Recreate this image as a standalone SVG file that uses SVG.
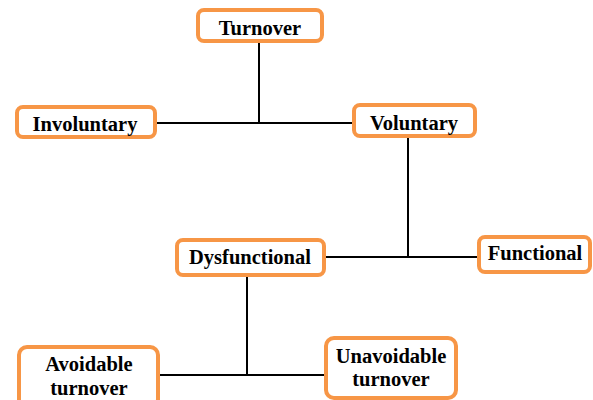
<svg xmlns="http://www.w3.org/2000/svg" width="593" height="400" viewBox="0 0 593 400">
<style>
.box{fill:#fff;stroke:#F79646;stroke-width:4}
.t{font-family:"Liberation Serif","Times New Roman",serif;font-weight:bold;font-size:20.5px;fill:#000;text-anchor:middle}
.c{stroke:#000;stroke-width:2;fill:none}
</style>
<rect width="593" height="400" fill="#fff"/>
<g id="connectors">
<path class="c" d="M259 43V123"/>
<path class="c" d="M157 123H352"/>
<path class="c" d="M408 138V257"/>
<path class="c" d="M326 257H477"/>
<path class="c" d="M247 277V375"/>
<path class="c" d="M160 375H324"/>
</g>
<g id="turnover"><rect class="box" x="198" y="10" width="124" height="31" rx="6"/><text class="t" x="260" y="35">Turnover</text></g>
<g id="involuntary"><rect class="box" x="17" y="107" width="138" height="30" rx="6"/><text class="t" x="85" y="131">Involuntary</text></g>
<g id="voluntary"><rect class="box" x="354" y="105" width="121" height="31" rx="6"/><text class="t" x="414" y="130">Voluntary</text></g>
<g id="dysfunctional"><rect class="box" x="177" y="240" width="147" height="35" rx="6"/><text class="t" x="250" y="264">Dysfunctional</text></g>
<g id="functional"><rect class="box" x="479" y="237" width="111" height="35" rx="6"/><text class="t" x="535" y="260">Functional</text></g>
<g id="avoidable"><rect class="box" x="19" y="347" width="139" height="60" rx="8"/><text class="t" x="89" y="371">Avoidable</text><text class="t" x="89" y="395">turnover</text></g>
<g id="unavoidable"><rect class="box" x="326" y="338" width="130" height="60" rx="8"/><text class="t" x="391" y="363">Unavoidable</text><text class="t" x="391" y="386">turnover</text></g>
</svg>
